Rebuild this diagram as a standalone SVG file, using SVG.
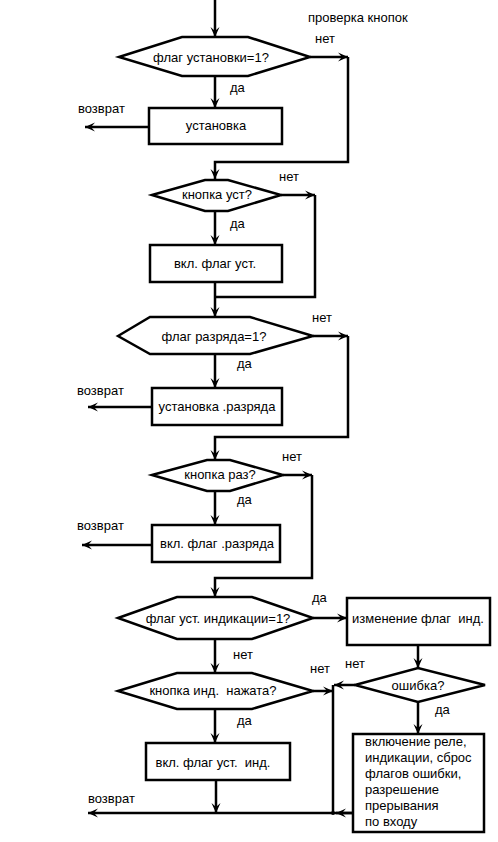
<svg xmlns="http://www.w3.org/2000/svg" width="498" height="842" viewBox="0 0 498 842">
<defs>
<marker id="ah" viewBox="-11 -6 12 12" markerWidth="12" markerHeight="12" refX="0" refY="0" orient="auto" markerUnits="userSpaceOnUse">
<path d="M0,0 L-10,-4.5 L-6,0 L-10,4.5 Z" fill="#000"/>
</marker>
</defs>
<style>
.s{fill:#fff;stroke:#000;stroke-width:2.5;stroke-linejoin:miter}
.c{fill:none;stroke:#000;stroke-width:2.5}
.a{marker-end:url(#ah)}
text{font-family:"Liberation Sans",Arial,sans-serif;font-size:13px;fill:#000}
.m{text-anchor:middle}
</style>
<rect width="498" height="842" fill="#fff"/>
<g id="connectors">
<path class="c a" d="M215,0 V37"/>
<path class="c a" d="M310,57 H348"/>
<path class="c a" d="M348,57 V162 H215 V179"/>
<path class="c a" d="M215,76 V108"/>
<path class="c a" d="M149,127 H85"/>
<path class="c a" d="M281,195 H315"/>
<path class="c" d="M315,195 V297 H215"/>
<path class="c a" d="M215,211 V245"/>
<path class="c a" d="M215,282 V317"/>
<path class="c a" d="M313,336 H348"/>
<path class="c a" d="M348,336 V437 H215 V460"/>
<path class="c a" d="M215,354 V388"/>
<path class="c a" d="M152,407 H88"/>
<path class="c a" d="M283,475 H312"/>
<path class="c a" d="M312,475 V578 H215 V597"/>
<path class="c a" d="M215,491 V525"/>
<path class="c a" d="M152,545 H82"/>
<path class="c a" d="M313,618 H347"/>
<path class="c a" d="M418,645 V668"/>
<path class="c a" d="M355,685 H334"/>
<path class="c a" d="M215,639 V673"/>
<path class="c a" d="M313,691 H333"/>
<path class="c" d="M333,685 V814"/>
<path class="c a" d="M215,709 V743"/>
<path class="c a" d="M216,780 V813"/>
<path class="c a" d="M353,813 H88"/>
<path class="c a" d="M353,813 H336"/>
<circle cx="333" cy="813" r="2" fill="#000"/>
<path class="c a" d="M418,702 V734"/>
</g>
<g id="labels">
<text x="308" y="22">проверка кнопок</text>
<text x="315" y="43">нет</text>
<text x="230" y="92">да</text>
<text x="78" y="113">возврат</text>
<text x="279" y="181">нет</text>
<text x="230" y="228">да</text>
<text x="312" y="322">нет</text>
<text x="237" y="368">да</text>
<text x="77" y="395">возврат</text>
<text x="282" y="461">нет</text>
<text x="237" y="504">да</text>
<text x="77" y="530">возврат</text>
<text x="312" y="602">да</text>
<text x="233" y="659">нет</text>
<text x="310" y="673">нет</text>
<text x="345" y="668">нет</text>
<text x="435" y="714">да</text>
<text x="237" y="725">да</text>
<text x="88" y="803">возврат</text>
</g>
<g id="n1"><polygon class="s" points="119,57 182,37 248,37 310,57 248,76 182,76"/><text class="m" x="211" y="62">флаг установки=1?</text></g>
<g id="n2"><rect class="s" x="149" y="108" width="133" height="36"/><text class="m" x="216" y="130">установка</text></g>
<g id="n3"><polygon class="s" points="152,195 205,180 228,180 281,195 228,211 205,211"/><text class="m" x="217" y="199">кнопка уст?</text></g>
<g id="n4"><rect class="s" x="150" y="245" width="132" height="37"/><text class="m" x="215" y="268">вкл. флаг уст.</text></g>
<g id="n5"><polygon class="s" points="118,336 150,317 250,317 313,336 250,354 150,354"/><text class="m" x="214" y="341">флаг разряда=1?</text></g>
<g id="n6"><rect class="s" x="152" y="388" width="130" height="37"/><text class="m" x="217" y="411">установка .разряда</text></g>
<g id="n7"><polygon class="s" points="152,475 207,460 230,460 283,475 230,491 207,491"/><text class="m" x="220" y="479">кнопка раз?</text></g>
<g id="n8"><rect class="s" x="152" y="525" width="128" height="37"/><text class="m" x="217" y="548">вкл. флаг .разряда</text></g>
<g id="n9"><polygon class="s" points="118,618 177,597 252,597 313,618 252,639 177,639"/><text class="m" x="218" y="623">флаг уст. индикации=1?</text></g>
<g id="n10"><rect class="s" x="347" y="598" width="143" height="47"/><text class="m" x="418" y="623" xml:space="preserve">изменение флаг  инд.</text></g>
<g id="n11"><polygon class="s" points="355,685 418,668 485,685 418,702"/><text class="m" x="418" y="690">ошибка?</text></g>
<g id="n12"><polygon class="s" points="118,691 177,673 252,673 313,691 252,709 177,709"/><text class="m" x="213" y="695" xml:space="preserve">кнопка инд.  нажата?</text></g>
<g id="n13"><rect class="s" x="146" y="743" width="144" height="37"/><text class="m" x="213" y="767" xml:space="preserve">вкл. флаг уст.  инд.</text></g>
<g id="n14"><rect class="s" x="353" y="734" width="131" height="98"/>
<text x="365" y="746">включение реле,</text>
<text x="365" y="762">индикации, сброс</text>
<text x="365" y="778">флагов ошибки,</text>
<text x="365" y="794">разрешение</text>
<text x="365" y="810">прерывания</text>
<text x="365" y="826">по входу</text>
</g>
</svg>
